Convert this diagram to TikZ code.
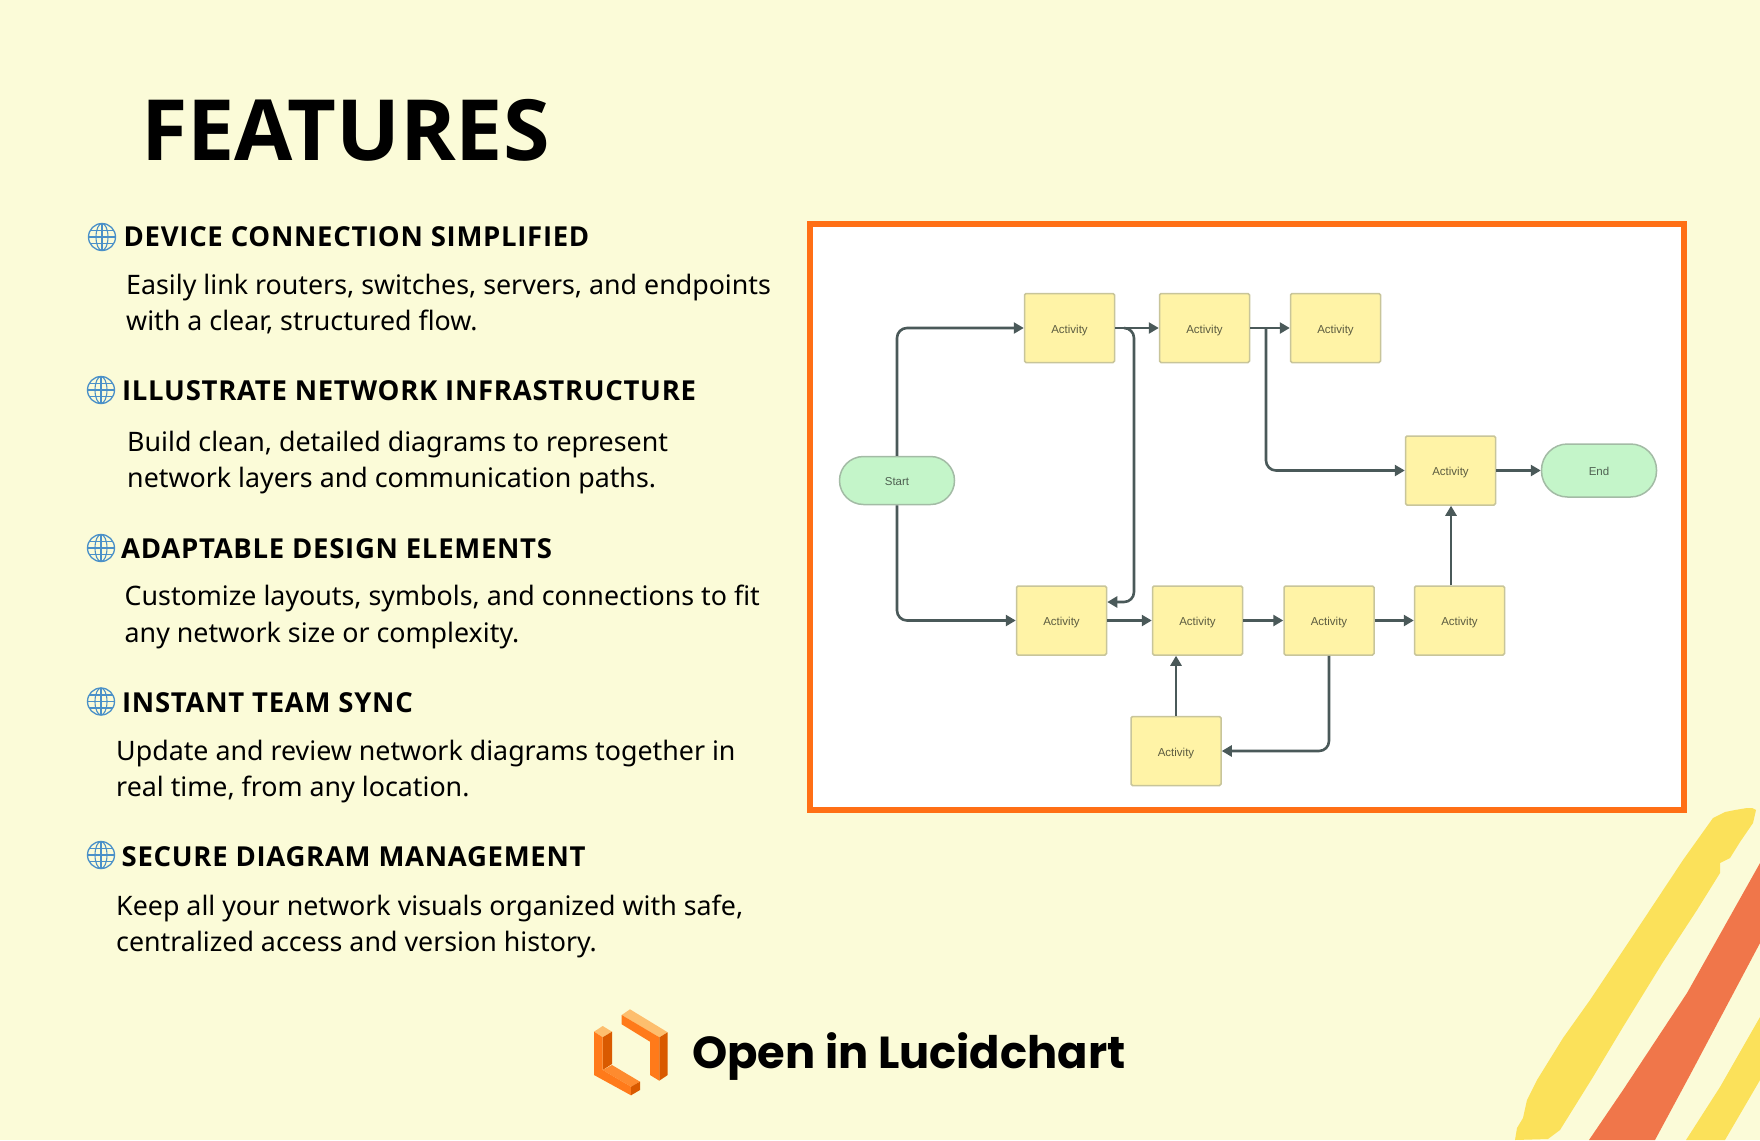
\documentclass[tikz,border=0pt]{standalone}
\usepackage{fontspec}
\setmainfont{Noto Sans}
\newfontfamily\headfont{Open Sans}
\newfontfamily\spreadfont[LetterSpace=2.6]{Open Sans}
\newfontfamily\logofont{Poppins}
\newfontfamily\chartfont{Liberation Sans}
\usetikzlibrary{arrows.meta}
\definecolor{pagebg}{HTML}{FBFBD8}
\definecolor{frameorange}{HTML}{FF6F15}
\definecolor{actfill}{HTML}{FFF3A6}
\definecolor{actline}{HTML}{C8C59A}
\definecolor{acttext}{HTML}{5C5C40}
\definecolor{termfill}{HTML}{C4F5C9}
\definecolor{termline}{HTML}{A3BBA5}
\definecolor{termtext}{HTML}{4F6152}
\definecolor{linkgrey}{HTML}{4A5959}
\definecolor{globeblue}{HTML}{4A90C8}
\definecolor{stripeyellow}{HTML}{FBE15A}
\definecolor{stripeorange}{HTML}{F0764A}
\definecolor{logolight}{HTML}{FDBE6E}
\definecolor{logomid}{HTML}{FF7A1A}
\definecolor{logodark}{HTML}{D95A00}
\tikzset{
    activity/.style={draw=actline, fill=actfill, line width=1.5pt, rounded corners=1.5pt, minimum width=90pt, minimum height=69pt, inner sep=0pt, text height=10pt, text depth=0pt, text=acttext, font=\chartfont\fontsize{11.5}{12}\selectfont},
    terminal/.style={draw=termline, fill=termfill, line width=1.5pt, rounded corners=24pt, minimum width=115pt, minimum height=48pt, inner sep=0pt, text height=10pt, text depth=0pt, text=termtext, font=\chartfont\fontsize{11.5}{12}\selectfont},
    link/.style={draw=linkgrey, line width=2.6pt, rounded corners=10pt, -{Triangle[length=10pt,width=11pt]}},
    headtext/.style={anchor=base west, inner sep=0pt, font=\spreadfont\bfseries\fontsize{27.5}{30}\selectfont},
    bodytext/.style={anchor=base west, inner sep=0pt, font=\fontsize{26.8}{30}\selectfont},
    globe/.pic={
        \draw[globeblue, line width=1.3pt] (0,0) circle(13.5pt);
        \draw[globeblue, line width=1.1pt] (0,0) ellipse(6pt and 13.5pt);
        \draw[globeblue, line width=1.1pt] (0,-13.5) -- (0,13.5);
        \draw[globeblue, line width=1.1pt] (-13.5,0) -- (13.5,0);
        \draw[globeblue, line width=1.1pt] (-12,-6.5) -- (12,-6.5);
        \draw[globeblue, line width=1.1pt] (-12,6.5) -- (12,6.5);
    }
}
\begin{document}
\begin{tikzpicture}[x=1pt, y=-1pt]
    \fill[pagebg] (0,0) rectangle (1760,1140);
    \useasboundingbox (0,0) rectangle (1760,1140);

    % brush stripes
    \fill[stripeyellow] (1713,818) -- (1725,812) -- (1735,810) -- (1747,808) -- (1752,808) -- (1756,810) -- (1753,823) -- (1740,842) -- (1730,858) -- (1720,863) -- (1720,873) -- (1697,910) -- (1663,962) -- (1623,1027) -- (1593,1077) -- (1560,1130) -- (1548,1139) -- (1515,1140) -- (1517,1128) -- (1523,1118) -- (1527,1100) -- (1537,1080) -- (1563,1038) -- (1590,1000) -- (1630,940) -- (1683,860) -- cycle;
    \fill[stripeorange] (1760,863) -- (1760,943) -- (1690,1075) -- (1655,1140) -- (1589,1140) -- (1623,1090) -- (1687,993) -- cycle;
    \fill[stripeyellow] (1760,1017) -- (1760,1080) -- (1725,1140) -- (1686,1140) -- (1720,1087) -- cycle;

    % left column
    \node[anchor=base west, inner sep=0pt, font=\headfont\bfseries\fontsize{84.5}{90}\selectfont] (title) at (141,160) {FEATURES};

    \pic at (102,237) {globe};
    \node[headtext] (headA) at (123.5,246) {DEVICE CONNECTION SIMPLIFIED};
    \node[bodytext] (bodyA) at (126,294) {Easily link routers, switches, servers, and endpoints};
    \node[bodytext] (bodyB) at (126,330) {with a clear, structured flow.};

    \pic at (101,390) {globe};
    \node[headtext] (headB) at (122,400) {ILLUSTRATE NETWORK INFRASTRUCTURE};
    \node[bodytext] (bodyC) at (127,451) {Build clean, detailed diagrams to represent};
    \node[bodytext] (bodyD) at (127,487) {network layers and communication paths.};

    \pic at (101,548) {globe};
    \node[headtext] (headC) at (121,558) {ADAPTABLE DESIGN ELEMENTS};
    \node[bodytext] (bodyE) at (124.5,605) {Customize layouts, symbols, and connections to fit};
    \node[bodytext] (bodyF) at (124.5,642) {any network size or complexity.};

    \pic at (101,701.5) {globe};
    \node[headtext] (headD) at (122,712.5) {INSTANT TEAM SYNC};
    \node[bodytext] (bodyG) at (116,760) {Update and review network diagrams together in};
    \node[bodytext] (bodyH) at (116,796) {real time, from any location.};

    \pic at (101,855) {globe};
    \node[headtext] (headE) at (121.5,866) {SECURE DIAGRAM MANAGEMENT};
    \node[bodytext] (bodyI) at (116,915) {Keep all your network visuals organized with safe,};
    \node[bodytext] (bodyJ) at (116,951) {centralized access and version history.};

    % chart panel
    \draw[frameorange, fill=white, line width=6pt] (810,224) rectangle (1684,810);

    \node[terminal] (start) at (897,480.5) {Start};
    \node[activity] (actA) at (1069.5,328) {Activity};
    \node[activity] (actB) at (1204.5,328) {Activity};
    \node[activity] (actC) at (1335.5,328) {Activity};
    \node[activity] (actD) at (1450.5,470.5) {Activity};
    \node[terminal, minimum height=53pt, rounded corners=26pt] (end) at (1599,470.5) {End};
    \node[activity] (lowA) at (1061.5,620.5) {Activity};
    \node[activity] (lowB) at (1197.5,620.5) {Activity};
    \node[activity] (lowC) at (1329,620.5) {Activity};
    \node[activity] (lowD) at (1459.5,620.5) {Activity};
    \node[activity] (lowE) at (1176,751) {Activity};

    \coordinate (forkA) at (1124,328);
    \coordinate (jogA) at (1134,602);
    \coordinate (jogB) at (1266,470.5);
    \coordinate (forkC) at (1451,620.5);

    \draw[link] (start.north) |- (actA.west);
    \draw[link] (start.south) |- (lowA.west);
    \draw[link] (actA.east) -- (actB.west);
    \draw[link] (forkA) -| (jogA) -- (lowA.east |- jogA);
    \draw[link] (actB.east) -- (actC.west);
    \draw[link] (jogB |- actB.east) -- (jogB) -- (actD.west);
    \draw[link] (actD.east) -- (end.west);
    \draw[link] (lowA.east) -- (lowB.west);
    \draw[link] (lowB.east) -- (lowC.west);
    \draw[link] (lowC.east) -- (lowD.west);
    \draw[link] (forkC |- lowD.north) -- (forkC |- actD.south);
    \draw[link] (lowE.north) -- (lowE.north |- lowB.south);
    \draw[link] (lowC.south) |- (lowE.east);

    % logo
    \fill[logolight] (621.7,1015) -- (630,1009.3) -- (667.7,1032.3) -- (659,1037.3) -- cycle;
    \fill[logomid] (621.7,1015) -- (621.7,1024.3) -- (650,1041.7) -- (650,1075) -- (659.3,1080.7) -- (659.3,1037.3) -- cycle;
    \fill[logodark] (659.3,1037.3) -- (667.7,1032.3) -- (667.7,1075) -- (659.3,1080.7) -- cycle;
    \fill[logolight] (594,1031.7) -- (602.7,1026) -- (612,1031.7) -- (602.7,1037.3) -- cycle;
    \fill[logodark] (602.7,1037.3) -- (612,1031.7) -- (612,1064) -- (602.7,1070) -- cycle;
    \fill[logomid!75!logolight] (602.7,1070) -- (612,1065) -- (640,1081.7) -- (631,1086.7) -- cycle;
    \fill[logomid] (594,1031.7) -- (602.7,1037.3) -- (602.7,1070) -- (631,1086.7) -- (631,1095.3) -- (594,1075) -- cycle;
    \fill[logodark] (631,1086.7) -- (640,1081.7) -- (640,1090) -- (631,1095.3) -- cycle;

    \node[anchor=base west, inner sep=0pt, font=\logofont\bfseries\fontsize{44.8}{50}\selectfont] (brand) at (692,1068) {Open in Lucidchart};
\end{tikzpicture}
\end{document}
